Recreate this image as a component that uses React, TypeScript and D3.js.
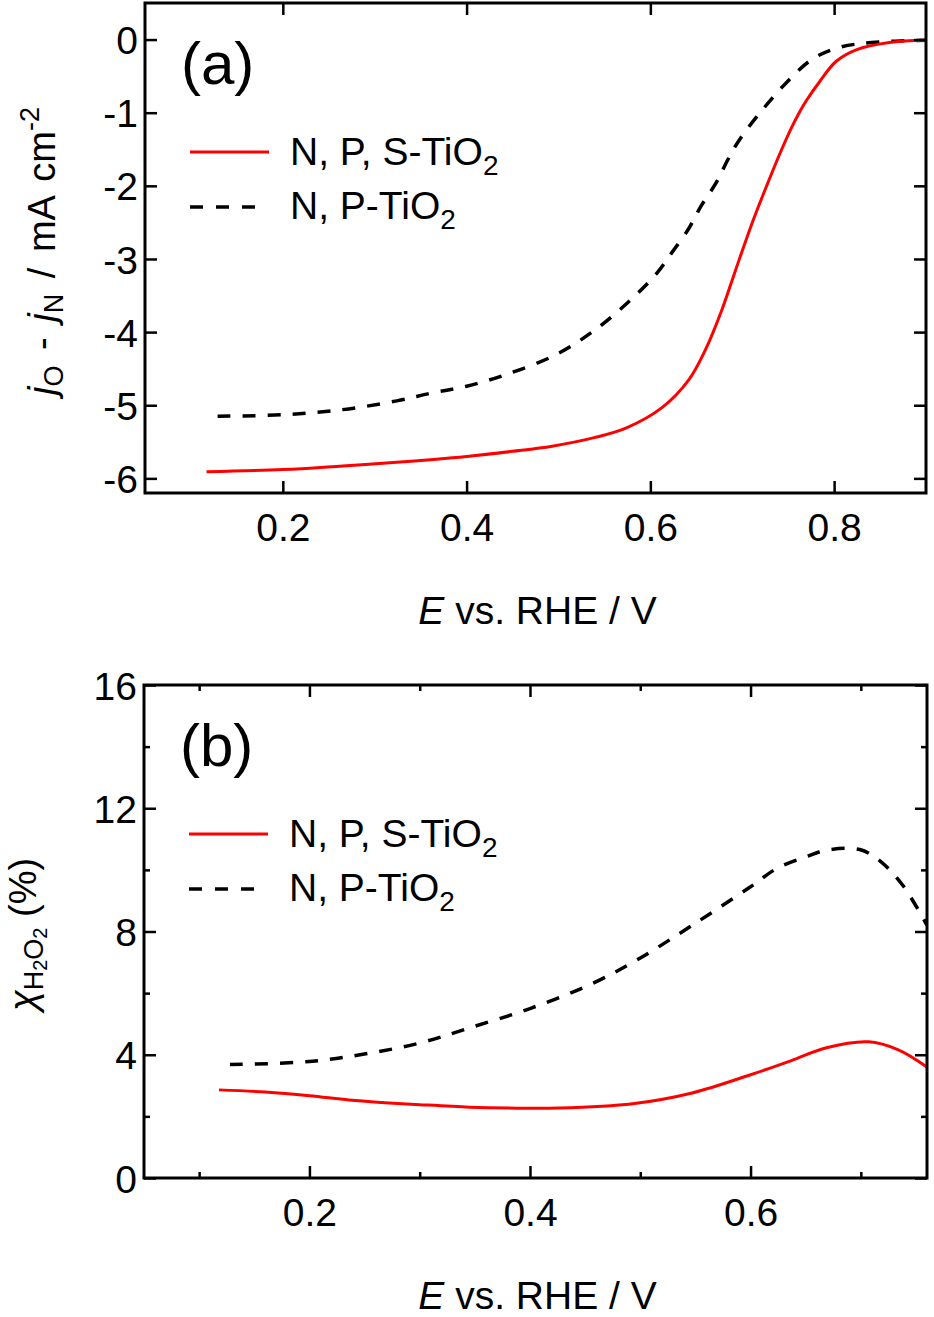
import { useEffect, useRef } from "react";
import * as d3 from "d3";

// (a) current difference j_O - j_N vs potential
const potentialA_NPS = [0.117, 0.2, 0.265, 0.324, 0.4, 0.45, 0.493, 0.54, 0.574, 0.613, 0.642, 0.66, 0.678, 0.692, 0.711, 0.733, 0.743, 0.753, 0.762, 0.77, 0.784, 0.802, 0.824, 0.86, 0.9];
const currentA_NPS = [-5.91, -5.88, -5.83, -5.78, -5.7, -5.63, -5.56, -5.44, -5.31, -5.03, -4.65, -4.24, -3.69, -3.18, -2.5, -1.8, -1.5, -1.22, -1.0, -0.83, -0.58, -0.3, -0.14, -0.04, -0.01];
const potentialA_NP = [0.129, 0.2, 0.265, 0.324, 0.363, 0.4, 0.443, 0.497, 0.543, 0.587, 0.608, 0.623, 0.642, 0.655, 0.672, 0.684, 0.697, 0.722, 0.748, 0.776, 0.805, 0.841, 0.9];
const currentA_NP = [-5.15, -5.13, -5.06, -4.94, -4.83, -4.74, -4.58, -4.31, -3.94, -3.46, -3.18, -2.92, -2.58, -2.28, -1.95, -1.65, -1.37, -0.96, -0.59, -0.27, -0.11, -0.04, -0.01];

// (b) H2O2 yield vs potential
const potentialB_NPS = [0.118, 0.16, 0.2, 0.236, 0.266, 0.3, 0.345, 0.381, 0.426, 0.493, 0.547, 0.6, 0.637, 0.668, 0.707, 0.734, 0.76];
const yieldB_NPS = [2.86, 2.79, 2.67, 2.53, 2.45, 2.38, 2.3, 2.27, 2.27, 2.41, 2.76, 3.35, 3.81, 4.22, 4.42, 4.16, 3.6];
const potentialB_NP = [0.128, 0.2, 0.251, 0.3, 0.345, 0.4, 0.456, 0.5, 0.547, 0.6, 0.624, 0.65, 0.669, 0.699, 0.717, 0.738, 0.76];
const yieldB_NP = [3.68, 3.78, 4.03, 4.38, 4.87, 5.5, 6.3, 7.14, 8.2, 9.45, 10.05, 10.42, 10.64, 10.66, 10.3, 9.5, 8.2];

const legendLabels = ["N, P, S-TiO", "N, P-TiO"];
const xTicksA = [0.2, 0.4, 0.6, 0.8];
const yTicksA = [0, -1, -2, -3, -4, -5, -6];
const xTicksB = [0.2, 0.4, 0.6];
const xMinorB = [0.1, 0.3, 0.5, 0.7];
const yTicksB = [0, 4, 8, 12, 16];
const yMinorB = [2, 6, 10, 14];

const FONT = "'Liberation Sans', Arial, sans-serif";
const RED = "#ff0000";

type Sel = d3.Selection<SVGGElement, unknown, null, undefined>;

interface PanelOpts {
  id: string;
  left: number;
  top: number;
  width: number;
  height: number;
  xDomain: [number, number];
  yDomain: [number, number];
  xMajor: number[];
  xMinor: number[];
  yMajor: number[];
  yMinor: number[];
  label: string;
  red: [number[], number[]];
  black: [number[], number[]];
  titleX: number;
  yTitle: (t: d3.Selection<SVGTextElement, unknown, null, undefined>) => void;
}

function drawPanel(root: d3.Selection<SVGSVGElement, unknown, null, undefined>, o: PanelOpts) {
  const x = d3.scaleLinear().domain(o.xDomain).range([0, o.width]);
  const y = d3.scaleLinear().domain(o.yDomain).range([o.height, 0]);

  root.append("defs").append("clipPath").attr("id", o.id)
    .append("rect").attr("width", o.width).attr("height", o.height);

  const g = root.append("g").attr("transform", `translate(${o.left},${o.top})`) as Sel;

  const line = d3.line<[number, number]>()
    .x((d) => x(d[0]))
    .y((d) => y(d[1]))
    .curve(d3.curveCatmullRom.alpha(0.5));

  g.append("path")
    .datum(d3.zip(o.black[0], o.black[1]) as [number, number][])
    .attr("d", line)
    .attr("fill", "none")
    .attr("stroke", "#000")
    .attr("stroke-width", 3.5)
    .attr("stroke-dasharray", "13,12")
    .attr("clip-path", `url(#${o.id})`);

  g.append("path")
    .datum(d3.zip(o.red[0], o.red[1]) as [number, number][])
    .attr("d", line)
    .attr("fill", "none")
    .attr("stroke", RED)
    .attr("stroke-width", 3)
    .attr("clip-path", `url(#${o.id})`);

  const style = (a: Sel) => {
    a.select(".domain").remove();
    a.selectAll(".tick line").attr("stroke", "#000").attr("stroke-width", 2.5);
    a.selectAll("text").attr("font-family", FONT).attr("font-size", 39).attr("fill", "#000");
  };

  // ticks, inward on all four sides
  g.append("g").attr("transform", `translate(0,${o.height})`)
    .call(d3.axisBottom(x).tickValues(o.xMajor).tickSize(-12).tickFormat(d3.format(".1f")))
    .call(style)
    .call((a) => a.selectAll("text").attr("y", 48).attr("dy", null));
  g.append("g").attr("transform", `translate(0,${o.height})`)
    .call(d3.axisBottom(x).tickValues(o.xMinor).tickSize(-6).tickFormat(() => ""))
    .call(style);
  g.append("g")
    .call(d3.axisTop(x).tickValues(o.xMajor).tickSize(-12).tickFormat(() => ""))
    .call(style);
  g.append("g")
    .call(d3.axisTop(x).tickValues(o.xMinor).tickSize(-6).tickFormat(() => ""))
    .call(style);

  g.append("g")
    .call(d3.axisLeft(y).tickValues(o.yMajor).tickSize(-12).tickFormat((d) => String(d)))
    .call(style)
    .call((a) => a.selectAll("text").attr("x", -7).attr("dy", "0.36em"));
  g.append("g")
    .call(d3.axisLeft(y).tickValues(o.yMinor).tickSize(-6).tickFormat(() => ""))
    .call(style);
  g.append("g").attr("transform", `translate(${o.width},0)`)
    .call(d3.axisRight(y).tickValues(o.yMajor).tickSize(-12).tickFormat(() => ""))
    .call(style);
  g.append("g").attr("transform", `translate(${o.width},0)`)
    .call(d3.axisRight(y).tickValues(o.yMinor).tickSize(-6).tickFormat(() => ""))
    .call(style);

  g.append("rect")
    .attr("width", o.width)
    .attr("height", o.height)
    .attr("fill", "none")
    .attr("stroke", "#000")
    .attr("stroke-width", 3);

  // panel label
  g.append("text")
    .attr("x", 36)
    .attr("y", 81)
    .attr("font-family", FONT)
    .attr("font-size", 60)
    .text(o.label);

  // legend
  const lg = g.append("g").attr("font-family", FONT).attr("font-size", 39);
  lg.append("line").attr("x1", 45).attr("x2", 124).attr("y1", 149).attr("y2", 149)
    .attr("stroke", RED).attr("stroke-width", 3);
  lg.append("line").attr("x1", 45).attr("x2", 110).attr("y1", 204).attr("y2", 204)
    .attr("stroke", "#000").attr("stroke-width", 3.5).attr("stroke-dasharray", "13,13");
  legendLabels.forEach((lab, i) => {
    const t = lg.append("text").attr("x", 145).attr("y", i === 0 ? 162 : 216);
    t.append("tspan").text(lab);
    t.append("tspan").attr("font-size", 28).attr("dy", 10).text("2");
  });

  // x title
  const xt = g.append("text")
    .attr("x", o.width / 2 + 2)
    .attr("y", o.height + 131)
    .attr("text-anchor", "middle")
    .attr("font-family", FONT)
    .attr("font-size", 39);
  xt.append("tspan").attr("font-style", "italic").text("E");
  xt.append("tspan").text(" vs. RHE / V");

  // y title
  const yt = g.append("text")
    .attr("transform", `translate(${o.titleX},${o.height / 2 + 3}) rotate(-90)`)
    .attr("text-anchor", "middle")
    .attr("font-family", FONT)
    .attr("font-size", 38);
  o.yTitle(yt);
}

export default function App() {
  const svgRef = useRef<SVGSVGElement>(null);

  useEffect(() => {
    document.body.style.margin = "0";
    if (!svgRef.current) return;
    const svg = d3.select(svgRef.current);
    svg.selectAll("*").remove();

    drawPanel(svg, {
      id: "clipA",
      left: 145,
      top: 3,
      width: 781,
      height: 490,
      xDomain: [0.05, 0.9],
      yDomain: [-6.2, 0.5],
      xMajor: xTicksA,
      xMinor: [],
      yMajor: yTicksA,
      yMinor: [],
      label: "(a)",
      red: [potentialA_NPS, currentA_NPS],
      black: [potentialA_NP, currentA_NP],
      titleX: -90,
      yTitle: (t) => {
        t.attr("word-spacing", 5);
        t.append("tspan").attr("font-style", "italic").text("j");
        t.append("tspan").attr("font-size", 27).attr("dy", 8).text("O");
        t.append("tspan").attr("dy", -8).text(" - ");
        t.append("tspan").attr("font-style", "italic").text("j");
        t.append("tspan").attr("font-size", 27).attr("dy", 8).text("N");
        t.append("tspan").attr("dy", -8).text(" / mA cm");
        t.append("tspan").attr("font-size", 27).attr("dy", -16).text("-2");
      },
    });

    drawPanel(svg, {
      id: "clipB",
      left: 144,
      top: 685,
      width: 783,
      height: 493,
      xDomain: [0.05, 0.76],
      yDomain: [0, 16],
      xMajor: xTicksB,
      xMinor: xMinorB,
      yMajor: yTicksB,
      yMinor: yMinorB,
      label: "(b)",
      red: [potentialB_NPS, yieldB_NPS],
      black: [potentialB_NP, yieldB_NP],
      titleX: -108,
      yTitle: (t) => {
        t.append("tspan").attr("font-style", "italic").text("χ");
        t.append("tspan").attr("font-size", 27).attr("dy", 7).text("H");
        t.append("tspan").attr("font-size", 20).attr("dy", 4).text("2");
        t.append("tspan").attr("font-size", 27).attr("dy", -4).text("O");
        t.append("tspan").attr("font-size", 20).attr("dy", 4).text("2");
        t.append("tspan").attr("dy", -11).text(" (%)");
      },
    });
  }, []);

  return (
    <svg
      ref={svgRef}
      width={934}
      height={1317}
      style={{ display: "block", background: "#fff" }}
      role="img"
      aria-label="Current difference and H2O2 yield vs potential for N, P, S-TiO2 and N, P-TiO2"
    />
  );
}
